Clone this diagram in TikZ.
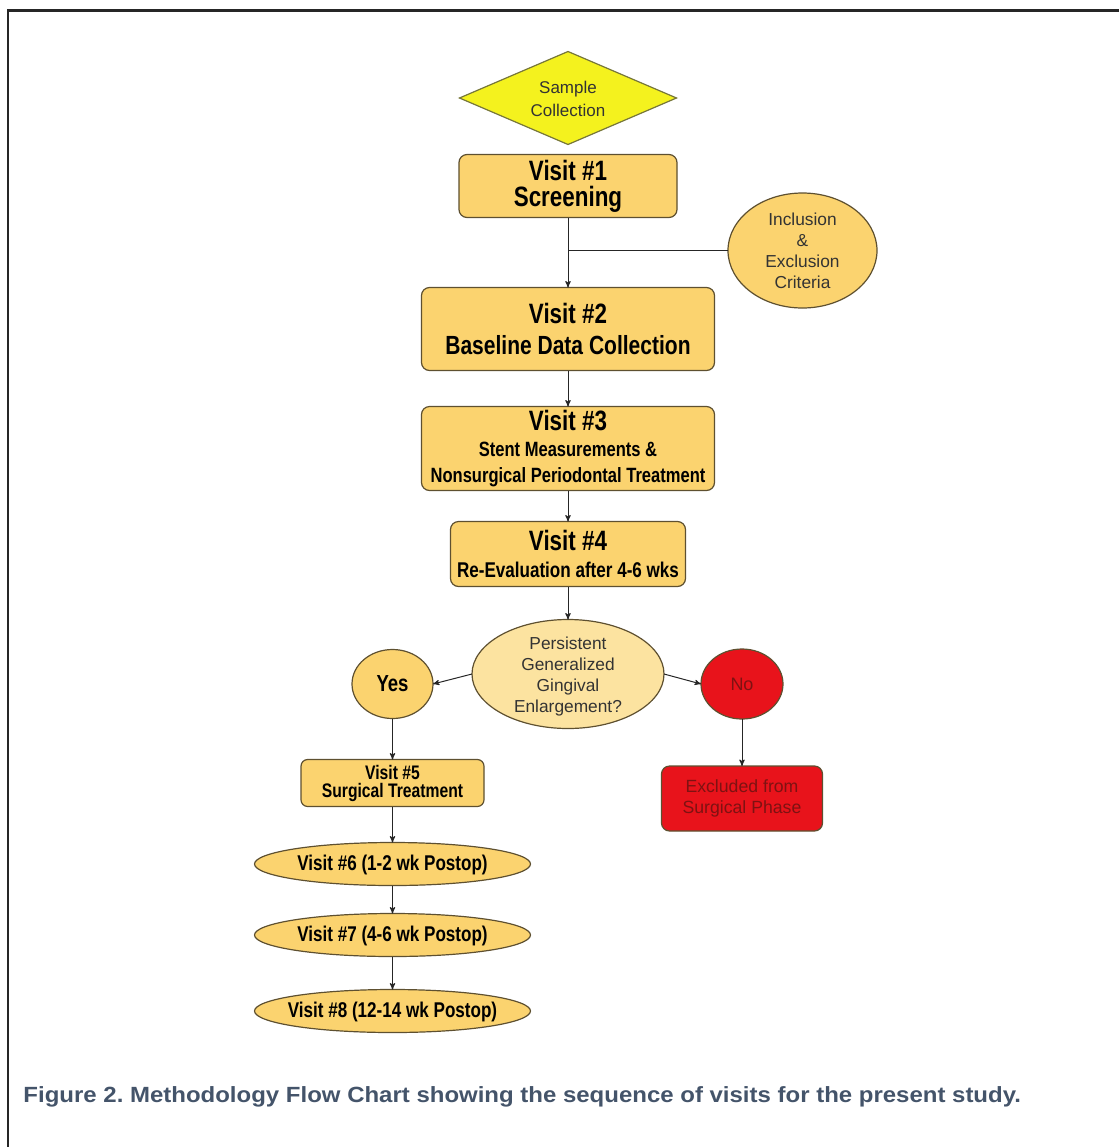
\documentclass[tikz,border=0pt]{standalone}
\usepackage{fontspec}
\setmainfont{Liberation Sans}
\newfontfamily\narrowfont[FakeStretch=0.8]{Liberation Sans}
\newfontfamily\capfont[FakeStretch=1.09]{Liberation Sans}
\usepackage{tikz}
\usetikzlibrary{arrows,positioning,shapes.geometric}
\definecolor{boxfill}{HTML}{FBD36F}
\definecolor{boxline}{HTML}{5E5030}
\definecolor{askfill}{HTML}{FCE3A0}
\definecolor{samplefill}{HTML}{F4F21E}
\definecolor{samplefline}{HTML}{77773A}
\definecolor{redfill}{HTML}{E8131B}
\definecolor{redtext}{HTML}{7E1212}
\definecolor{capcolor}{HTML}{44546A}
% text of fixed-size shapes, takes no room
\newcommand{\flattext}[1]{\makebox[0pt]{\smash{\raisebox{-0.37em}{\begin{tabular}{@{}c@{}}#1\end{tabular}}}}}
\tikzset{
    %Define standard arrow tip
    >=stealth',
    %Define style for visit boxes
    visitbox/.style={
           rectangle,
           rounded corners=6pt,
           draw=boxline, line width=0.9pt,
           fill=boxfill,
           inner sep=0pt, outer sep=0pt,
           align=center,
           font=\narrowfont\bfseries\fontsize{21}{19.5}\selectfont},
    visitoval/.style={
           ellipse,
           draw=boxline, line width=0.9pt,
           fill=boxfill,
           inner sep=0pt, outer sep=0pt,
           minimum width=207pt,
           minimum height=32.25pt,
           font=\narrowfont\bfseries\fontsize{16}{18}\selectfont},
    sample/.style={
           diamond,
           draw=samplefline, line width=0.9pt,
           fill=samplefill,
           inner sep=0pt, outer sep=0pt,
           minimum width=162.75pt,
           minimum height=69.75pt,
           text=black!80,
           font=\fontsize{12.75}{17}\selectfont},
    critoval/.style={
           ellipse,
           draw=boxline, line width=0.9pt,
           fill=boxfill,
           inner sep=0pt, outer sep=0pt,
           minimum width=111.75pt,
           minimum height=86.25pt,
           text=black!80,
           font=\fontsize{13}{15.75}\selectfont},
    askoval/.style={
           ellipse,
           draw=boxline, line width=0.9pt,
           fill=askfill,
           inner sep=0pt, outer sep=0pt,
           minimum width=144pt,
           minimum height=81.75pt,
           text=black!80,
           font=\fontsize{13}{15.75}\selectfont},
    yesnode/.style={
           ellipse,
           draw=boxline, line width=0.9pt,
           fill=boxfill,
           inner sep=0pt, outer sep=0pt,
           minimum width=60.75pt,
           minimum height=51.75pt,
           font=\narrowfont\bfseries\fontsize{17.4}{20}\selectfont},
    nonode/.style={
           ellipse,
           draw=boxline, line width=0.9pt,
           fill=redfill,
           inner sep=0pt, outer sep=0pt,
           minimum width=61.5pt,
           minimum height=52.5pt,
           text=redtext,
           font=\fontsize{13.5}{16}\selectfont},
    exclbox/.style={
           rectangle,
           rounded corners=6pt,
           draw=boxline, line width=0.9pt,
           fill=redfill,
           inner sep=0pt, outer sep=0pt,
           minimum width=120.75pt,
           minimum height=48.75pt,
           align=center,
           text=redtext,
           font=\fontsize{13.25}{15.75}\selectfont},
    % Define arrow style
    flow/.style={
           ->,
           draw=black!85,
           line width=0.75pt}
}
\begin{document}
\begin{tikzpicture}[x=0.75pt,y=-0.75pt,flow]
\useasboundingbox (0,0) rectangle (1119,1147);
\draw[line width=2.2pt,-] (8,1147) -- (8,10.5) -- (1119,10.5);

 %nodes
\node[sample](sample) at (568,98){\flattext{Sample\\Collection}};
\node[visitbox, minimum width=163.5pt, minimum height=47.25pt, below=7.5pt of sample](v1){Visit \#1\\Screening};
\node[critoval](crit) at (802.5,250.5){\flattext{Inclusion\\\&\\Exclusion\\Criteria}};
\node[visitbox, minimum width=219.75pt, minimum height=62.25pt, below=52.5pt of v1, font=\narrowfont\bfseries\fontsize{21}{23}\selectfont](v2){Visit \#2\\{\fontsize{19.7}{23}\selectfont Baseline Data Collection}};
\node[visitbox, minimum width=219.75pt, minimum height=63pt, below=27pt of v2](v3){Visit \#3\\{\fontsize{15.5}{17.5}\selectfont Stent Measurements \&}\\{\fontsize{15.5}{17.5}\selectfont Nonsurgical Periodontal Treatment}};
\node[visitbox, minimum width=176.25pt, minimum height=48.75pt, below=23.25pt of v3, font=\narrowfont\bfseries\fontsize{21}{20}\selectfont](v4){Visit \#4\\{\fontsize{16}{20}\selectfont Re-Evaluation after 4-6 wks}};
\node[askoval, below=24.75pt of v4](ask){\flattext{Persistent\\Generalized\\Gingival\\Enlargement?}};
\node[yesnode, left=29.25pt of ask, yshift=-7.5pt](yes){Yes};
\node[nonode, right=27.75pt of ask, yshift=-7.5pt](no){No};
\node[visitbox, rounded corners=5pt, minimum width=137.25pt, minimum height=35.25pt, below=30.75pt of yes, font=\narrowfont\bfseries\fontsize{14.7}{13.5}\selectfont](v5){Visit \#5\\Surgical Treatment};
\node[exclbox, below=35.25pt of no](excl){Excluded from\\Surgical Phase};
\node[visitoval, below=27pt of v5](v6){\flattext{Visit \#6 (1-2 wk Postop)}};
\node[visitoval, below=21pt of v6](v7){\flattext{Visit \#7 (4-6 wk Postop)}};
\node[visitoval, below=24.75pt of v7](v8){\flattext{Visit \#8 (12-14 wk Postop)}};

\node[anchor=base west, inner sep=0pt, text=capcolor, font=\capfont\bfseries\fontsize{16.5}{20}\selectfont](cap) at (23,1102){Figure 2.\ Methodology Flow Chart showing the sequence of visits for the present study.};

 \path
    (v1) edge (v2)
    (v2) edge (v3)
    (v3) edge (v4)
    (v4) edge (ask)
    (ask.west) edge (yes.east)
    (ask.east) edge (no.west)
    (yes) edge (v5)
    (no) edge (excl)
    (v5) edge (v6)
    (v6) edge (v7)
    (v7) edge (v8);
 \draw[-] (crit.west) -- (crit.west -| v1.south);

\end{tikzpicture}
\end{document}
